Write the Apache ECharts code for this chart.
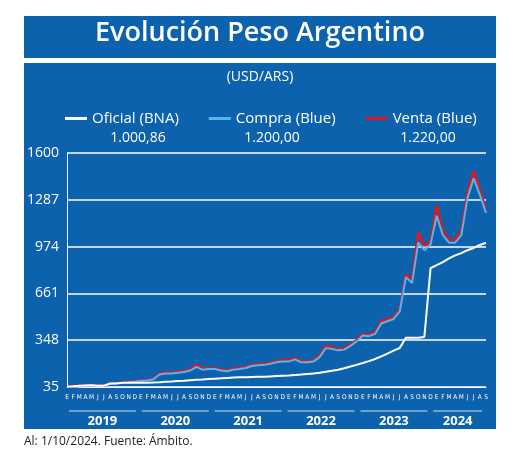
<!DOCTYPE html>
<html><head><meta charset="utf-8">
<script src="https://cdn.jsdelivr.net/npm/echarts@6/dist/echarts.min.js"></script>
<style>html,body{margin:0;padding:0;background:#fff}#c{width:520px;height:454px}</style>
</head><body><div id="c"></div>
<script>
const monthLetters = ['E','F','M','A','M','J','J','A','S','O','N','D'];
const years = ['2019','2020','2021','2022','2023','2024'];
const months = [];
for (let y = 0; y < 6; y++) for (let m = 0; m < 12; m++) { if (y === 5 && m > 8) break; months.push(monthLetters[m]); }
const yTicks = [35, 348, 661, 974, 1287, 1600];
const oficial = [39,40,43,45,46,44,44,58,59,63,63,63,
  63,64,65,67,70,72,75,77,80,83,85,88,
  91,93,96,98,100,101,102,103,104,106,108,110,
  112,115,118,122,126,131,137,143,150,160,172,183,
  195,208,222,240,258,278,296,365,365,365,370,830,
  850,870,895,915,930,950,965,985,1000];
const compra = [37,38,41,43,44,43,43,56,60,62,65,70,
  76,78,85,118,125,125,130,135,145,170,150,155,
  155,145,140,150,155,162,175,180,183,190,200,205,
  205,220,200,200,205,235,295,290,280,285,310,340,
  380,375,390,460,475,490,540,770,730,1000,950,990,
  1180,1050,1000,1000,1050,1300,1430,1320,1200];
const venta = [38,39,42,44,45,44,44,58,62,64,68,73,
  80,82,89,125,133,130,137,142,152,185,158,162,
  162,152,146,158,162,170,183,188,191,198,208,214,
  215,230,208,208,212,245,310,300,290,295,320,350,
  390,385,400,475,490,500,555,790,750,1070,980,1010,
  1250,1080,1020,1020,1080,1340,1480,1350,1220];
const legendValues = ['1.000,86','1.200,00','1.220,00'];

const chart = echarts.init(document.getElementById('c'));
const bg = '#0c62ad';
const left = 67, right = 486;
const pw = (right-left)/months.length;
const graphic = [
  {type:'rect', shape:{x:24,y:16,width:472,height:42}, style:{fill:bg}, z:-10},
  {type:'rect', shape:{x:24,y:63,width:472,height:366}, style:{fill:bg}, z:-10},
  {type:'text', left:'center', top:20, style:{text:'Evolución Peso Argentino', fill:'#fff', font:'600 27px "Open Sans"'}},
  {type:'text', left:'center', top:70, style:{text:'(USD/ARS)', fill:'#fff', font:'14px "Open Sans"'}},
  {type:'text', x:138, y:131, style:{text:legendValues[0], fill:'#fff', font:'14px "Open Sans"', textAlign:'center'}},
  {type:'text', x:272, y:131, style:{text:legendValues[1], fill:'#fff', font:'14px "Open Sans"', textAlign:'center'}},
  {type:'text', x:428, y:131, style:{text:legendValues[2], fill:'#fff', font:'14px "Open Sans"', textAlign:'center'}},
  {type:'text', x:24, y:436, style:{text:'Al: 1/10/2024. Fuente: Ámbito.', fill:'#222', font:'12px "Open Sans"'}}
];
years.forEach((y,i)=>{
  const n = i===5 ? 9 : 12;
  const x0 = left + i*12*pw + 2, x1 = left + (i*12+n)*pw - 4;
  graphic.push({type:'line', shape:{x1:x0,y1:411,x2:x1,y2:411}, style:{stroke:'#c8dff3',lineWidth:1}});
  graphic.push({type:'text', x:(x0+x1)/2, y:415, style:{text:y, fill:'#fff', font:'bold 13px "Open Sans"', textAlign:'center'}});
});
chart.setOption({
  animation:false,
  backgroundColor:'#fff',
  graphic,
  legend:{top:106, left:60, itemGap:30, itemWidth:22, itemHeight:3, icon:'rect',
    textStyle:{color:'#fff', fontSize:15, fontFamily:'Open Sans'},
    data:[{name:'Oficial (BNA)'},{name:'Compra (Blue)'},{name:'Venta (Blue)'}]},
  grid:{left:left, right:520-right, top:153, bottom:454-387},
  xAxis:{type:'category', data:months, boundaryGap:false,
    axisLine:{lineStyle:{color:'#fff'}}, axisTick:{show:false},
    axisLabel:{interval:0, hideOverlap:false, color:'#fff', fontSize:6.5, fontFamily:'DejaVu Sans Condensed', margin:7}},
  yAxis:{type:'value', min:35, max:1600, interval:313,
    axisLine:{show:true, lineStyle:{color:'#fff'}},
    axisLabel:{color:'#fff', fontSize:14, fontFamily:'Open Sans', margin:8, formatter:v=>String(Math.round(v))},
    splitLine:{lineStyle:{color:'#fff', width:1.5}}},
  series:[
    {name:'Venta (Blue)', type:'line', data:venta, showSymbol:false, lineStyle:{color:'#e0191f', width:2.5}, itemStyle:{color:'#e0191f'}, z:2},
    {name:'Compra (Blue)', type:'line', data:compra, showSymbol:false, lineStyle:{color:'#5ab4e8', width:2}, itemStyle:{color:'#5ab4e8'}, z:3},
    {name:'Oficial (BNA)', type:'line', data:oficial, showSymbol:false, lineStyle:{color:'#fff', width:2}, itemStyle:{color:'#fff'}, z:4}
  ]
});
</script></body></html>
